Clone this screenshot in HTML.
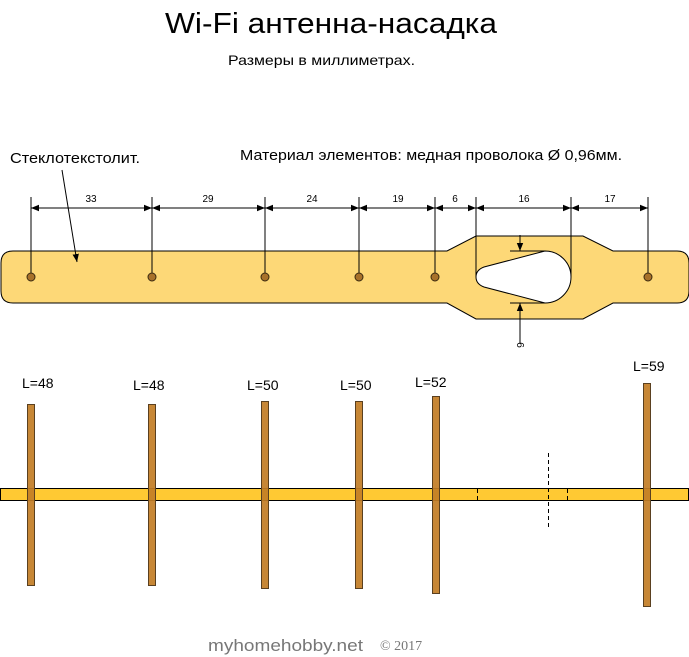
<!DOCTYPE html>
<html><head><meta charset="utf-8"><style>body{margin:0;background:#fff}svg{display:block}</style></head><body>
<svg width="689" height="657" viewBox="0 0 689 657" xmlns="http://www.w3.org/2000/svg" font-family="Liberation Sans, sans-serif">
<defs><marker id="a" viewBox="0 0 10 10" refX="10" refY="5" markerWidth="8" markerHeight="8" orient="auto-start-reverse" markerUnits="userSpaceOnUse"><path d="M0,1 L10,5 L0,9z" fill="#000"/></marker></defs>
<text x="165" y="33" font-size="29" textLength="332" lengthAdjust="spacingAndGlyphs">Wi-Fi антенна-насадка</text>
<text x="228" y="65" font-size="14" textLength="187" lengthAdjust="spacingAndGlyphs">Размеры в миллиметрах.</text>
<text x="10" y="163" font-size="15" textLength="130" lengthAdjust="spacingAndGlyphs">Стеклотекстолит.</text>
<text x="240" y="160" font-size="15" textLength="382" lengthAdjust="spacingAndGlyphs">Материал элементов: медная проволока Ø 0,96мм.</text>
<!-- board -->
<path d="M13,251 H447 L476,236 H583 L613,251 H677 Q689,251 689,263 V291 Q689,303 677,303 H613 L583,319 H476 L447,303 H13 Q1,303 1,291 V263 Q1,251 13,251 Z" fill="#fdd877" stroke="#000" stroke-width="1"/>
<path d="M545,251 A26,26 0 0 1 545,303 L484,287 Q476,284 476,277 Q476,270 484,267 Z" fill="#fff" stroke="#000"/>
<!-- dim lines -->
<g stroke="#000" stroke-width="1">
<line x1="31" y1="197" x2="31" y2="273"/><line x1="152" y1="197" x2="152" y2="273"/><line x1="265" y1="197" x2="265" y2="273"/><line x1="359" y1="197" x2="359" y2="273"/><line x1="435" y1="197" x2="435" y2="273"/><line x1="476" y1="197" x2="476" y2="277"/><line x1="571" y1="197" x2="571" y2="277"/><line x1="648" y1="197" x2="648" y2="273"/>
<line x1="31" y1="208" x2="152" y2="208" marker-start="url(#a)" marker-end="url(#a)"/>
<line x1="152" y1="208" x2="265" y2="208" marker-start="url(#a)" marker-end="url(#a)"/>
<line x1="265" y1="208" x2="359" y2="208" marker-start="url(#a)" marker-end="url(#a)"/>
<line x1="359" y1="208" x2="435" y2="208" marker-start="url(#a)" marker-end="url(#a)"/>
<line x1="435" y1="208" x2="476" y2="208" marker-start="url(#a)" marker-end="url(#a)"/>
<line x1="476" y1="208" x2="571" y2="208" marker-start="url(#a)" marker-end="url(#a)"/>
<line x1="571" y1="208" x2="648" y2="208" marker-start="url(#a)" marker-end="url(#a)"/>
<line x1="510" y1="251" x2="545" y2="251"/><line x1="510" y1="303" x2="545" y2="303"/>
<line x1="520" y1="235" x2="520" y2="251" marker-end="url(#a)"/>
<line x1="520" y1="343" x2="520" y2="303" marker-end="url(#a)"/>
<line x1="62" y1="170" x2="77" y2="262" marker-end="url(#a)"/>
</g>
<g font-size="10" text-anchor="middle" fill="#000">
<text x="91" y="202">33</text><text x="208" y="202">29</text><text x="312" y="202">24</text><text x="398" y="202">19</text><text x="455" y="202">6</text><text x="524" y="202">16</text><text x="610" y="202">17</text>
<text transform="translate(517,345) rotate(90)" text-anchor="middle" font-size="10">6</text>
</g>
<g fill="#a8712a" stroke="#3a2a10" stroke-width="1">
<circle cx="31" cy="277" r="4"/><circle cx="152" cy="277" r="4"/><circle cx="265" cy="277" r="4"/><circle cx="359" cy="277" r="4"/><circle cx="435" cy="277" r="4"/><circle cx="648" cy="277" r="4"/>
</g>
<!-- lower -->
<g font-size="14">
<text x="22" y="388">L=48</text><text x="133" y="390">L=48</text><text x="247" y="390">L=50</text><text x="340" y="390">L=50</text><text x="415" y="387">L=52</text><text x="633" y="371">L=59</text>
</g>
<rect x="0.5" y="488.5" width="688" height="12" fill="#ffc933" stroke="#000"/>
<g fill="#c27d25" stroke="#5a4020" stroke-width="1" fill-opacity="0.92">
<rect x="27.5" y="404.5" width="7" height="181"/><rect x="148.5" y="404.5" width="7" height="181"/><rect x="261.5" y="401.5" width="7" height="187"/><rect x="355.5" y="401.5" width="7" height="187"/><rect x="432.5" y="396.5" width="7" height="197"/><rect x="643.5" y="383.5" width="7" height="223"/>
</g>
<g stroke="#000" stroke-dasharray="4,3">
<line x1="548.5" y1="453" x2="548.5" y2="529"/><line x1="477.5" y1="489" x2="477.5" y2="500"/><line x1="567.5" y1="489" x2="567.5" y2="500"/>
</g>
<text x="208" y="651" font-size="17" fill="#777" textLength="155" lengthAdjust="spacingAndGlyphs">myhomehobby.net</text>
<text x="380" y="650" font-size="14" fill="#777" font-family="Liberation Serif, serif">© 2017</text>
</svg>
</body></html>
